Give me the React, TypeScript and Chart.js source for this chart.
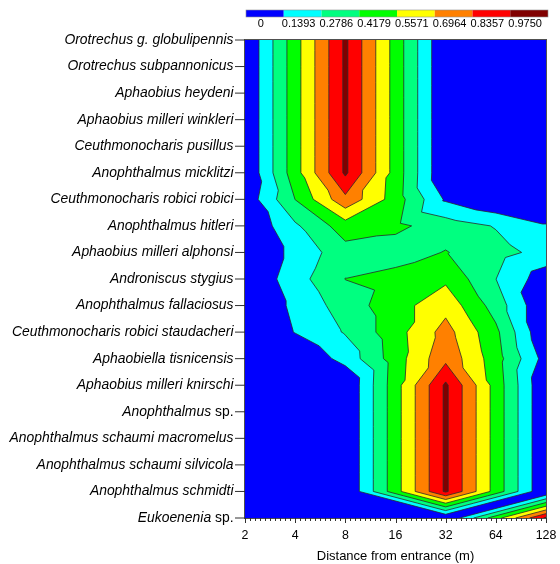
import { useEffect, useRef } from "react";
import { Chart, registerables } from "chart.js";

Chart.register(...registerables);

// ---------- data ----------
const speciesNames = [
  "Orotrechus g. globulipennis",
  "Orotrechus subpannonicus",
  "Aphaobius heydeni",
  "Aphaobius milleri winkleri",
  "Ceuthmonocharis pusillus",
  "Anophthalmus micklitzi",
  "Ceuthmonocharis robici robici",
  "Anophthalmus hitleri",
  "Aphaobius milleri alphonsi",
  "Androniscus stygius",
  "Anophthalmus fallaciosus",
  "Ceuthmonocharis robici staudacheri",
  "Aphaobiella tisnicensis",
  "Aphaobius milleri knirschi",
  "Anophthalmus sp.",
  "Anophthalmus schaumi macromelus",
  "Anophthalmus schaumi silvicola",
  "Anophthalmus schmidti",
  "Eukoenenia sp.",
];

const distances = [2, 4, 8, 16, 32, 64, 128];

const levelValues = [0, 0.1393, 0.2786, 0.4179, 0.5571, 0.6964, 0.8357, 0.975];
const levelLabels = ["0", "0.1393", "0.2786", "0.4179", "0.5571", "0.6964", "0.8357", "0.9750"];
const levelColors = ["#0000ff", "#00ffff", "#00ff80", "#00ff00", "#ffff00", "#ff8000", "#ff0000", "#800000"];

// relative abundance per species at each distance (null = not sampled)
const orotrechusGlobulipennis = [0, 0.5, 1, 0.5, 0, 0, 0];
const orotrechusSubpannonicus = [0, 0.5, 1, 0.5, 0, 0, 0];
const aphaobiusHeydeni = [0, 0.5, 1, 0.5, 0, 0, 0];
const aphaobiusWinkleri = [0, 0.5, 1, 0.5, 0, 0, 0];
const ceuthmonocharisPusillus = [0, 0.5, 1, 0.5, 0, 0, 0];
const anophthalmusMicklitzi = [0, 0.5, 1, 0.5, 0, 0, 0];
const ceuthmonocharisRobici = [0.04, 0.42, 0.8, 0.49, 0.12, 0, 0];
const anophthalmusHitleri = [0, 0.256, 0.49, 0.45, 0.35, 0.27, 0.15];
const aphaobiusAlphonsi = [0, 0.18, 0.365, 0.35, 0.425, 0.33, 0.23];
const androniscusStygius = [0, 0.22, 0.42, 0.47, 0.53, 0.28, 0.06];
const anophthalmusFallaciosus = [0, 0.17, 0.345, 0.5, 0.65, 0.357, 0];
const ceuthmonocharisStaudacheri = [0, 0.145, 0.29, 0.5, 0.75, 0.45, 0];
const aphaobiellaTisnicensis = [0, 0, 0.19, 0.49, 0.8, 0.48, 0.08];
const aphaobiusKnirschi = [0, 0, 0, 0.5, 1, 0.5, 0];
const anophthalmusSp = [0, 0, 0, 0.5, 1, 0.5, 0];
const anophthalmusMacromelus = [0, 0, 0, 0.5, 1, 0.5, 0];
const anophthalmusSilvicola = [0, 0, 0, 0.5, 1, 0.5, 0];
const anophthalmusSchmidti = [0, 0, 0, 0.5, 1, 0.5, 0];
const eukoeneniaSp = [null, null, null, null, 0, null, 1];

const abundanceRows: (number | null)[][] = [
  orotrechusGlobulipennis,
  orotrechusSubpannonicus,
  aphaobiusHeydeni,
  aphaobiusWinkleri,
  ceuthmonocharisPusillus,
  anophthalmusMicklitzi,
  ceuthmonocharisRobici,
  anophthalmusHitleri,
  aphaobiusAlphonsi,
  androniscusStygius,
  anophthalmusFallaciosus,
  ceuthmonocharisStaudacheri,
  aphaobiellaTisnicensis,
  aphaobiusKnirschi,
  anophthalmusSp,
  anophthalmusMacromelus,
  anophthalmusSilvicola,
  anophthalmusSchmidti,
  eukoeneniaSp,
];

const xTitle = "Distance from entrance (m)";
const FONT = '"Liberation Sans", Arial, Helvetica, sans-serif';

// ---------- contour helpers ----------
type Node = { x: number; y: number; v: number };
type Pt = { x: number; y: number };

function buildTriangles(node: (r: number, c: number) => Node): Node[][] {
  const tris: Node[][] = [];
  const nc = distances.length;
  for (let r = 0; r < abundanceRows.length - 1; r++) {
    const top: number[] = [];
    const bot: number[] = [];
    for (let c = 0; c < nc; c++) {
      if (abundanceRows[r][c] != null) top.push(c);
      if (abundanceRows[r + 1][c] != null) bot.push(c);
    }
    if (top.length === nc && bot.length === nc) {
      for (let c = 0; c < nc - 1; c++) {
        const TL = node(r, c), TR = node(r, c + 1), BL = node(r + 1, c), BR = node(r + 1, c + 1);
        if (TL.v + BR.v <= TR.v + BL.v) {
          tris.push([TL, TR, BR], [TL, BR, BL]);
        } else {
          tris.push([TL, TR, BL], [TR, BR, BL]);
        }
      }
    } else {
      // fan between an incomplete row pair
      for (let i = 0; i < top.length - 1; i++) tris.push([node(r, top[i]), node(r, top[i + 1]), node(r + 1, bot[0])]);
      const last = top[top.length - 1];
      for (let j = 0; j < bot.length - 1; j++) tris.push([node(r, last), node(r + 1, bot[j]), node(r + 1, bot[j + 1])]);
    }
  }
  return tris;
}

function clipAbove(tri: Node[], L: number): Pt[] {
  const out: Pt[] = [];
  for (let i = 0; i < 3; i++) {
    const p = tri[i], q = tri[(i + 1) % 3];
    if (p.v >= L) out.push(p);
    if ((p.v >= L) !== (q.v >= L)) {
      const t = (L - p.v) / (q.v - p.v);
      out.push({ x: p.x + t * (q.x - p.x), y: p.y + t * (q.y - p.y) });
    }
  }
  return out;
}

function isoSeg(tri: Node[], L: number): Pt[] | null {
  const pts: Pt[] = [];
  for (let i = 0; i < 3; i++) {
    const p = tri[i], q = tri[(i + 1) % 3];
    if ((p.v >= L) !== (q.v >= L)) {
      const t = (L - p.v) / (q.v - p.v);
      pts.push({ x: p.x + t * (q.x - p.x), y: p.y + t * (q.y - p.y) });
    }
  }
  return pts.length === 2 ? pts : null;
}

const contourPlugin = {
  id: "contour",
  beforeDatasetsDraw(chart: any) {
    const { ctx, chartArea: a, scales } = chart;
    const xs = scales.x, ys = scales.y;
    const node = (r: number, c: number): Node => ({
      x: xs.getPixelForValue(distances[c]),
      y: ys.getPixelForValue(r),
      v: abundanceRows[r][c] as number,
    });
    const tris = buildTriangles(node);
    ctx.save();
    ctx.beginPath();
    ctx.rect(a.left, a.top, a.right - a.left, a.bottom - a.top);
    ctx.clip();
    ctx.fillStyle = levelColors[0];
    ctx.fillRect(a.left, a.top, a.right - a.left, a.bottom - a.top);
    for (let k = 1; k < levelValues.length; k++) {
      const L = levelValues[k];
      ctx.beginPath();
      for (const t of tris) {
        let poly = clipAbove(t, L);
        if (poly.length < 3) continue;
        let area = 0;
        for (let i = 0; i < poly.length; i++) {
          const p = poly[i], q = poly[(i + 1) % poly.length];
          area += p.x * q.y - q.x * p.y;
        }
        if (area < 0) poly = poly.slice().reverse();
        ctx.moveTo(poly[0].x, poly[0].y);
        for (let i = 1; i < poly.length; i++) ctx.lineTo(poly[i].x, poly[i].y);
        ctx.closePath();
      }
      ctx.fillStyle = levelColors[k];
      ctx.fill("nonzero");
    }
    ctx.strokeStyle = "#2a2a2a";
    ctx.lineWidth = 0.8;
    for (let k = 1; k < levelValues.length; k++) {
      const L = levelValues[k];
      ctx.beginPath();
      for (const t of tris) {
        const s = isoSeg(t, L);
        if (!s) continue;
        ctx.moveTo(s[0].x, s[0].y);
        ctx.lineTo(s[1].x, s[1].y);
      }
      ctx.stroke();
    }
    ctx.restore();
  },
  afterDraw(chart: any) {
    const { ctx, chartArea: a, scales } = chart;
    const xs = scales.x, ys = scales.y;
    ctx.save();
    // frame
    ctx.strokeStyle = "#505050";
    ctx.lineWidth = 1;
    ctx.strokeRect(a.left - 0.5, a.top - 0.5, a.right - a.left + 1, a.bottom - a.top + 1);

    // y ticks and labels
    ctx.strokeStyle = "#303030";
    ctx.fillStyle = "#000";
    ctx.textBaseline = "middle";
    ctx.textAlign = "right";
    speciesNames.forEach((name, r) => {
      const y = ys.getPixelForValue(r);
      ctx.beginPath();
      ctx.moveTo(a.left - 10, y);
      ctx.lineTo(a.left, y);
      ctx.stroke();
      const right = a.left - 11.5;
      let italicPart = name;
      let plainPart = "";
      if (name.endsWith(" sp.")) {
        italicPart = name.slice(0, -4);
        plainPart = " sp.";
      }
      let w = 0;
      if (plainPart) {
        ctx.font = `13.9px ${FONT}`;
        w = ctx.measureText(plainPart).width;
        ctx.fillText(plainPart, right, y);
      }
      ctx.font = `italic 13.9px ${FONT}`;
      ctx.fillText(italicPart, right - w, y);
    });

    // x ticks
    for (let c = 0; c < distances.length; c++) {
      const x = Math.round(xs.getPixelForValue(distances[c])) + 0.5;
      ctx.beginPath();
      ctx.moveTo(x, a.bottom);
      ctx.lineTo(x, a.bottom + 5);
      ctx.stroke();
      if (c < distances.length - 1) {
        for (let i = 1; i < 10; i++) {
          const xm = Math.round(xs.getPixelForValue(distances[c] * Math.pow(2, i / 10))) + 0.5;
          ctx.beginPath();
          ctx.moveTo(xm, a.bottom);
          ctx.lineTo(xm, a.bottom + 3);
          ctx.stroke();
        }
      }
    }
    ctx.font = `12.4px ${FONT}`;
    ctx.textAlign = "center";
    ctx.textBaseline = "middle";
    distances.forEach((d) => {
      ctx.fillText(String(d), xs.getPixelForValue(d), a.bottom + 18);
    });
    ctx.font = `13px ${FONT}`;
    ctx.fillText(xTitle, (a.left + a.right) / 2, a.bottom + 38);

    // colour bar
    const n = levelColors.length;
    const bw = (a.right - a.left + 1) / n;
    levelColors.forEach((col, i) => {
      const x0 = a.left + 1 + i * bw;
      ctx.fillStyle = col;
      ctx.fillRect(x0, 10, bw, 7);
    });
    ctx.strokeStyle = "#909090";
    ctx.lineWidth = 0.6;
    ctx.strokeRect(a.left + 1, 10, bw * n, 7);
    ctx.fillStyle = "#000";
    ctx.font = `11px ${FONT}`;
    levelLabels.forEach((lab, i) => {
      const cx = a.left + 1 + (i + 0.5) * bw - 4;
      ctx.fillText(lab, cx, 24);
    });
    ctx.restore();
  },
};

export default function App() {
  const canvasRef = useRef<HTMLCanvasElement | null>(null);
  useEffect(() => {
    if (!canvasRef.current) return;
    const nodePoints: { x: number; y: number }[] = [];
    abundanceRows.forEach((row, r) =>
      row.forEach((v, c) => {
        if (v != null) nodePoints.push({ x: distances[c], y: r });
      })
    );
    const chart = new Chart(canvasRef.current, {
      type: "scatter",
      data: {
        datasets: [
          {
            data: nodePoints,
            pointRadius: 0,
            pointHoverRadius: 0,
            showLine: false,
          },
        ],
      },
      options: {
        animation: false,
        responsive: false,
        events: [],
        layout: { padding: { left: 245, top: 40, right: 14, bottom: 46 } },
        plugins: { legend: { display: false }, tooltip: { enabled: false } },
        scales: {
          x: { type: "logarithmic", min: 2, max: 128, display: false },
          y: { type: "linear", min: 0, max: 18, reverse: true, display: false },
        },
      },
      plugins: [contourPlugin],
    });
    return () => chart.destroy();
  }, []);
  return (
    <div style={{ position: "absolute", left: 0, top: 0, width: 560, height: 564 }}>
      <canvas ref={canvasRef} width={560} height={564} />
    </div>
  );
}
